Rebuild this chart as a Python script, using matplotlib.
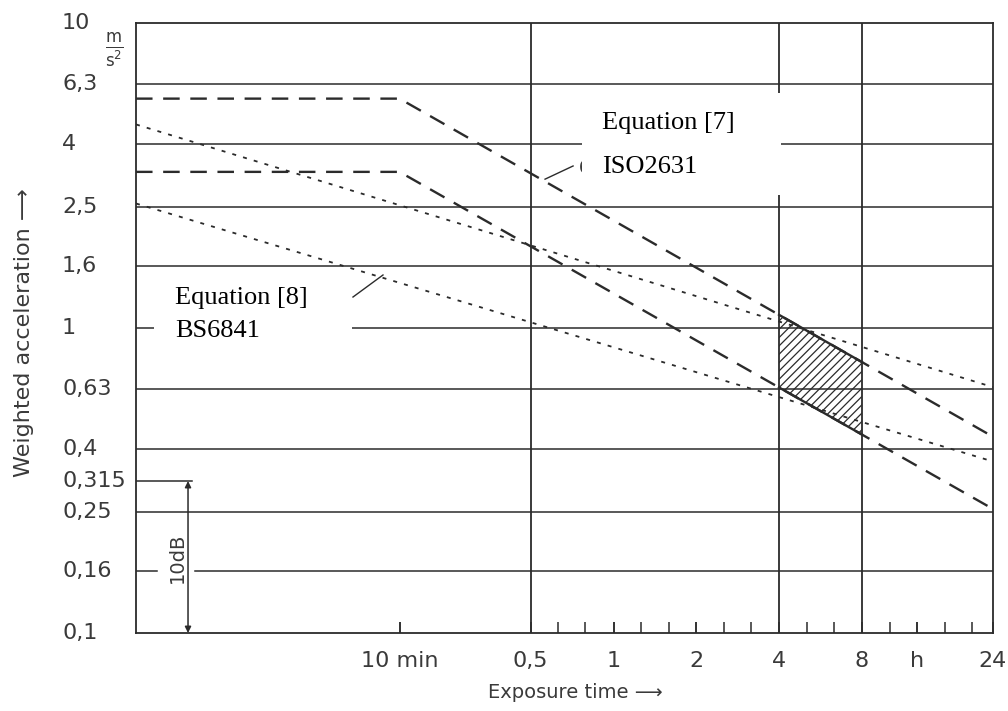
import numpy as np
import matplotlib
matplotlib.use('Agg')
import matplotlib.pyplot as plt
import matplotlib.ticker as ticker
from matplotlib.patches import Rectangle

plt.rcParams['hatch.linewidth'] = 0.9

INK = '#2b2b2b'
TXT = '#3a3a3a'

# exposure time in hours (left edge of the chart is about 1 min)
T_MIN = 1.1 / 60
T_MAX = 24

# y grid / labels (m/s^2)
y_levels = [10, 6.3, 4, 2.5, 1.6, 1, 0.63, 0.4, 0.315, 0.25, 0.16, 0.1]
y_labels = ['10', '6,3', '4', '2,5', '1,6', '1', '0,63', '0,4', '0,315', '0,25', '0,16', '0,1']
grid_y = [6.3, 4, 2.5, 1.6, 1, 0.63, 0.4, 0.25]
grid_x = [0.5, 4, 8]

# x ticks (hours)
x_tick_pos = [1 / 6, 0.5, 1, 2, 4, 8, 12.7, 24]
x_tick_lab = ['10 min', '0,5', '1', '2', '4', '8', 'h', '24']
x_minor = [1 / 6, 0.63, 0.79, 1, 1.26, 1.59, 2, 2.52, 3.17, 5.04, 6.35,
           10.1, 12.7, 16, 20.2]

# Equation [7] (ISO2631) - dashed
eq7_t = [T_MIN, 1 / 6, T_MAX]
eq7_hi = [5.65, 5.65, 0.44]
eq7_lo = [3.25, 3.25, 0.255]

# Equation [8] (BS6841) - dotted
eq8_t = [T_MIN, T_MAX]
eq8_hi = [4.65, 0.64]
eq8_lo = [2.56, 0.365]

# hatched zone between the eq7 curves
zone_t = [4, 8]


def loginterp(t, ts, vs):
    return 10 ** np.interp(np.log10(t), np.log10(ts), np.log10(vs))


fig = plt.figure(figsize=(10.08, 7.11), dpi=100)
ax = fig.add_axes([136 / 1008, 1 - 633 / 711, 857 / 1008, 610 / 711])
ax.set_xscale('log')
ax.set_yscale('log')
ax.set_xlim(T_MIN, T_MAX)
ax.set_ylim(0.1, 10)

for s in ax.spines.values():
    s.set_color(INK)
    s.set_linewidth(1.3)

# grid
ytr = ax.get_yaxis_transform()
for y in grid_y:
    ax.plot([0, 1], [y, y], transform=ytr, color=INK, lw=1.1, zorder=1)
ax.plot([0, 0.0245], [0.16, 0.16], transform=ytr, color=INK, lw=1.1, zorder=1)
ax.plot([0.0688, 1], [0.16, 0.16], transform=ytr, color=INK, lw=1.1, zorder=1)
ax.plot([0, 0.065], [0.315, 0.315], transform=ytr, color=INK, lw=1.1, zorder=1)
for x in grid_x:
    ax.axvline(x, color=INK, lw=1.3, zorder=1)

# 10 dB dimension
ax.annotate('', xy=(0.0607, 0.1), xytext=(0.0607, 0.315), xycoords=ytr, textcoords=ytr,
            arrowprops=dict(arrowstyle='<|-|>', color=INK, lw=1.1, mutation_scale=9,
                            shrinkA=0, shrinkB=0))
ax.text(0.048, 0.177, '10dB', transform=ytr, rotation=90, ha='center', va='center',
        fontsize=14, color=TXT)

# curves
ax.plot(eq7_t, eq7_hi, color=INK, lw=1.7, dashes=(7, 4.5), zorder=3)
ax.plot(eq7_t, eq7_lo, color=INK, lw=1.7, dashes=(7, 4.5), zorder=3)
ax.plot(eq8_t, eq8_hi, color=INK, lw=1.3, dashes=(2.2, 4), zorder=3)
ax.plot(eq8_t, eq8_lo, color=INK, lw=1.3, dashes=(2.2, 4), zorder=3)

zhi = loginterp(zone_t, eq7_t, eq7_hi)
zlo = loginterp(zone_t, eq7_t, eq7_lo)
ax.fill_between(zone_t, zlo, zhi, facecolor='none', edgecolor=INK, hatch='////', lw=0, zorder=2)
ax.plot(zone_t, zhi, color=INK, lw=1.7, zorder=3)
ax.plot(zone_t, zlo, color=INK, lw=1.7, zorder=3)

# ticks
ax.yaxis.set_major_locator(ticker.NullLocator())
ax.yaxis.set_minor_locator(ticker.NullLocator())
ax.xaxis.remove_overlapping_locs = False
ax.set_xticks(x_tick_pos)
ax.set_xticklabels(x_tick_lab)
ax.set_xticks(x_minor, minor=True)
ax.xaxis.set_minor_formatter(ticker.NullFormatter())
ax.tick_params(axis='x', which='both', direction='in', length=8, width=1.1, color=INK,
               labelsize=16, labelcolor=TXT, pad=13)

for v, lab in zip(y_levels, y_labels):
    ax.text(-0.0863, v, lab, transform=ytr, ha='left', va='center', fontsize=16, color=TXT)

ax.text(-0.0255, 0.955, r'$\frac{\mathrm{m}}{\mathrm{s}^2}$', transform=ax.transAxes,
        ha='center', va='center', fontsize=17, color=TXT)

# pasted-over annotations
ax.add_patch(Rectangle((0.5204, 0.718), 0.2322, 0.167, transform=ax.transAxes,
                       facecolor='white', edgecolor='none', zorder=4))
ax.add_patch(Rectangle((0.021, 0.472), 0.231, 0.115, transform=ax.transAxes,
                       facecolor='white', edgecolor='none', zorder=4))
ax.text(0.5165, 0.762, '6', transform=ax.transAxes, fontsize=12, color=TXT,
        ha='left', va='center', zorder=3)
ax.plot([0.4773, 0.51], [0.744, 0.7656], transform=ax.transAxes, color=INK, lw=1, zorder=3)
ax.plot([0.2532, 0.2882], [0.5508, 0.5869], transform=ax.transAxes, color=INK, lw=1, zorder=3)

serif = dict(family='Liberation Serif', fontsize=19, color='black', zorder=5,
             transform=ax.transAxes, va='baseline', ha='left')
ax.text(0.5438, 0.826, 'Equation [7]', **serif)
ax.text(0.5438, 0.754, 'ISO2631', **serif)
ax.text(0.0455, 0.539, 'Equation [8]', **serif)
ax.text(0.0455, 0.485, 'BS6841', **serif)

fig.text(24 / 1008, 1 - 333 / 711, 'Weighted acceleration \u27f6', rotation=90,
         ha='center', va='center', fontsize=16, color=TXT)
fig.text(575 / 1008, 1 - 693 / 711, 'Exposure time \u27f6', ha='center', va='center',
         fontsize=14, color=TXT)

fig.savefig('out.png', dpi=100, facecolor='white')
